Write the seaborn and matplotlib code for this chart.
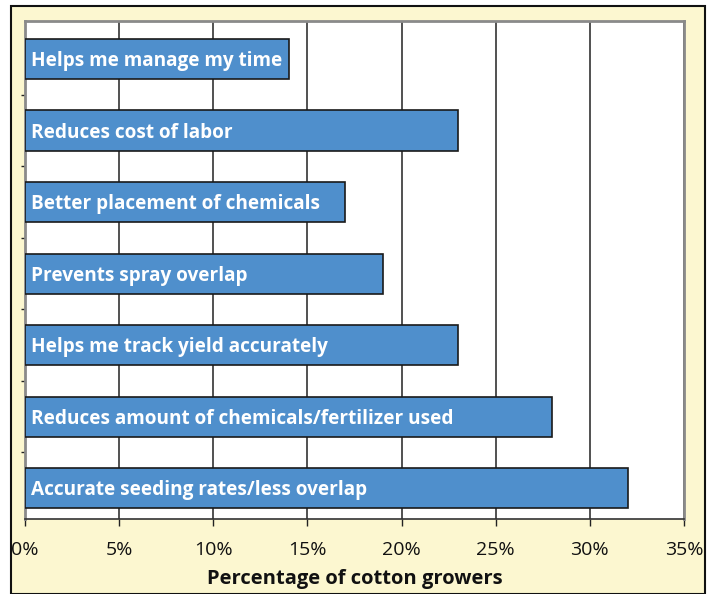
import matplotlib
matplotlib.use("Agg")
import matplotlib.pyplot as plt
import seaborn as sns
import pandas as pd
from matplotlib.patches import Rectangle
from matplotlib.ticker import FixedLocator

categories = [
    "Helps me manage my time",
    "Reduces cost of labor",
    "Better placement of chemicals",
    "Prevents spray overlap",
    "Helps me track yield accurately",
    "Reduces amount of chemicals/fertilizer used",
    "Accurate seeding rates/less overlap",
]
values = [14, 23, 17, 19, 23, 28, 32]
xticks = [0, 5, 10, 15, 20, 25, 30, 35]
xtick_labels = ["0%", "5%", "10%", "15%", "20%", "25%", "30%", "35%"]
xlabel = "Percentage of cotton growers"

sns.set_theme(style="white")
plt.rcParams['font.family'] = ['Open Sans', 'DejaVu Sans']

W, H = 709, 594
fig = plt.figure(figsize=(W / 100, H / 100), dpi=100)
fig.patch.set_facecolor("white")
# outer yellow panel with black border
fig.patches.append(Rectangle((11 / W, 0), (705 - 11) / W, (H - 6) / H,
                             transform=fig.transFigure, facecolor="#FCF7D0",
                             edgecolor="#111111", linewidth=1.5, zorder=-10))

left, right, top, bottom = 25, 684, 21, 519
ax = fig.add_axes([left / W, 1 - bottom / H, (right - left) / W, (bottom - top) / H])
ax.set_zorder(5)
ax.set_facecolor("white")

df = pd.DataFrame({"cat": categories, "val": values})
sns.barplot(data=df, x="val", y="cat", orient="h", color="#4F8FCC",
            saturation=1, edgecolor="#1a1a1a", linewidth=1.2, width=0.56,
            ax=ax, zorder=3)

for i, (c, v) in enumerate(zip(categories, values)):
    ax.text(0.3, i + 0.03, c, color="white", fontweight="bold", fontsize=13.7,
            va="center", ha="left", zorder=4)

ax.set_xlim(0, 35)
ax.set_ylim(6.43, -0.53)
ax.set_xticks(xticks)
ax.set_xticklabels(xtick_labels, fontsize=14, color="#111111")
ax.set_yticks([])
ax.yaxis.set_minor_locator(FixedLocator([0.5, 1.5, 2.5, 3.5, 4.5, 5.5]))
ax.tick_params(axis="y", which="minor", left=True, length=3, width=1,
               color="#222222", direction="out")
ax.tick_params(axis="x", which="major", bottom=True, length=5, width=1,
               color="#222222", direction="out", pad=11)
ax.set_ylabel("")
ax.set_xlabel(xlabel, fontsize=14.5, fontweight="bold", color="#111111", labelpad=7)

ax.grid(axis="x", color="#222222", linewidth=1.1, zorder=0)
ax.grid(axis="y", visible=False)
ax.set_axisbelow(True)
for s in ["top", "right", "left"]:
    ax.spines[s].set_visible(True)
    ax.spines[s].set_color("#8a8a8a")
    ax.spines[s].set_linewidth(2)
ax.spines["bottom"].set_color("#333333")
ax.spines["bottom"].set_linewidth(1.2)

fig.savefig("out.png", dpi=100)
